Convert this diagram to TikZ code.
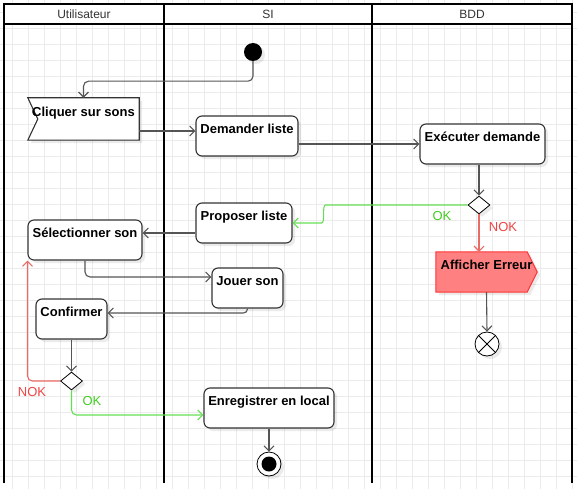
\documentclass[tikz,border=0pt]{standalone}
\usepackage{fontspec}
\setmainfont{Liberation Sans}
\usetikzlibrary{arrows.meta,shapes.geometric,shadows}
\definecolor{gridgray}{HTML}{EBEBEB}
\definecolor{boxline}{HTML}{333333}
\definecolor{flowgray}{HTML}{555555}
\definecolor{headtext}{HTML}{333333}
\definecolor{okgreen}{HTML}{66DD55}
\definecolor{oktext}{HTML}{44CC22}
\definecolor{nokred}{HTML}{EA6B66}
\definecolor{noktext}{HTML}{EE4444}
\definecolor{errfill}{HTML}{FF8080}
\definecolor{errline}{HTML}{FF3333}

\begin{document}
\begin{tikzpicture}[
  x=1pt, y=-1pt,
  font=\fontsize{13}{15}\selectfont,
  boxshadow/.style={drop shadow={shadow xshift=3pt, shadow yshift=-3pt, fill=black, opacity=0.08}},
  activity/.style={rounded corners=6pt, draw=boxline, line width=1.1pt, fill=white, boxshadow,
    font=\bfseries\fontsize{13}{15}\selectfont, inner xsep=2pt, inner ysep=2pt,
    text height=15.5pt, text depth=20.5pt},
  shapedtext/.style={draw=none, font=\bfseries\fontsize{13}{15}\selectfont,
    inner xsep=2pt, inner ysep=2pt, text height=15.5pt, text depth=20.5pt},
  decision/.style={diamond, draw=black, fill=white, line width=0.8pt, inner sep=0pt,
    minimum width=22pt, minimum height=18pt, boxshadow},
  startnode/.style={circle, fill=black, minimum size=18pt, inner sep=0pt, boxshadow},
  finalnode/.style={circle, draw=black, fill=white, line width=0.8pt, minimum size=24pt,
    inner sep=0pt, boxshadow,
    path picture={\fill[black] (path picture bounding box.center) circle (7.5pt);}},
  flowfinal/.style={circle, draw=black, fill=white, line width=0.8pt, minimum size=24pt,
    inner sep=0pt, boxshadow,
    path picture={\draw[black, line width=0.8pt]
      (path picture bounding box.north west) -- (path picture bounding box.south east)
      (path picture bounding box.north east) -- (path picture bounding box.south west);}},
  lanehead/.style={font=\fontsize{12}{14}\selectfont, text=headtext},
  lane/.style={draw=black, line width=1.8pt},
  gridline/.style={draw=gridgray, line width=0.8pt},
  flow/.style={-{Straight Barb[length=5pt,width=10pt]}, draw=flowgray, line width=1.1pt,
    rounded corners=5pt},
  okflow/.style={flow, draw=okgreen},
  nokflow/.style={flow, draw=nokred},
  oklabel/.style={text=oktext},
  noklabel/.style={text=noktext}
]
\useasboundingbox (0,0) rectangle (577,489);

% background grid
\foreach \gx in {12,28,...,572}
  \draw[gridline] (\gx,0) -- (\gx,489);
\foreach \gy in {12,28,...,476}
  \draw[gridline] (0,\gy) -- (577,\gy);

% swimlanes
\fill[white] (4,4) rectangle (572,24);
\draw[lane] (4,483) -- (4,4) -- (572,4) -- (572,483);
\draw[lane] (4,24) -- (572,24);
\draw[lane] (164,4) -- (164,483);
\draw[lane] (372,4) -- (372,483);
\node[lanehead] (laneuser) at (84,14) {Utilisateur};
\node[lanehead] (lanesi) at (268,14) {SI};
\node[lanehead] (lanebdd) at (472,14) {BDD};

% activities
\node[startnode] (start) at (253,52) {};
\node[shapedtext, minimum width=111pt, minimum height=42pt, text height=16.5pt, text depth=21.5pt]
  (click) at (83.5,119) {Cliquer sur sons};
\draw[draw=boxline, fill=white, line width=1.1pt, boxshadow]
  (click.north west) -- (click.north east) -- (click.south east) -- (click.south west)
  -- ([xshift=10pt]click.west) -- cycle;
\node[shapedtext, minimum width=111pt, minimum height=42pt, text height=16.5pt, text depth=21.5pt]
  at (click.center) {Cliquer sur sons};
\node[activity, minimum width=102pt] (ask) at (247,136) {Demander liste};
\node[activity, minimum width=125pt] (exec) at (482.5,144) {Exécuter demande};
\node[decision] (decdb) at (479,205) {};
\node[shapedtext, minimum width=101pt, minimum height=40pt] (err) at (486.5,272) {};
\draw[draw=errline, fill=errfill, line width=1pt, boxshadow]
  (err.north west) -- ([xshift=-10pt]err.north east) -- (err.east)
  -- ([xshift=-10pt]err.south east) -- (err.south west) -- cycle;
\node[shapedtext, minimum width=101pt, minimum height=40pt] at (err.center) {Afficher Erreur};
\node[flowfinal] (endflow) at (487,344) {};
\node[activity, minimum width=96pt] (propose) at (244,223) {Proposer liste};
\node[activity, minimum width=114pt] (select) at (85,240) {Sélectionner son};
\node[activity, minimum width=71pt] (play) at (247.5,288) {Jouer son};
\node[activity, minimum width=71pt] (confirm) at (71.5,319) {Confirmer};
\node[decision] (decuser) at (71.5,381) {};
\node[activity, minimum width=130pt] (save) at (269,408) {Enregistrer en local};
\node[finalnode] (finish) at (269,464) {};

% guard labels
\node[oklabel] (okdb) at (442,216) {OK};
\node[noklabel] (nokdb) at (503,227) {NOK};
\node[noklabel] (nokuser) at (32,392) {NOK};
\node[oklabel] (okuser) at (92,401) {OK};

% connectors
\coordinate (clickout) at ([yshift=-12pt]click.east);
\coordinate (proposeout) at ([yshift=-10pt]propose.west);
\draw[flow] (start.south) -- ++(0,20) -| (click.north);
\draw[flow] (clickout) -- (clickout -| ask.west);
\draw[flow] (ask.east |- exec.west) -- (exec.west);
\draw[flow] (decdb.north |- exec.south) -- (decdb.north);
\draw[okflow] (decdb.west) -- ++(-137,0) to[out=180, in=0] ++(-14,18) -- (propose.east);
\draw[nokflow] (decdb.south) -- (decdb.south |- err.north);
\draw[flow] (err.south) -- (endflow.north);
\draw[flow] (proposeout) -- (proposeout -| select.east);
\draw[flow] (select.south) |- ([yshift=11pt]play.west);
\draw[flow, rounded corners=4pt] (play.south) |- ([yshift=6pt]confirm.east);
\draw[flow] (confirm.south) -- (decuser.north);
\draw[nokflow] (decuser.west) -| (select.south west);
\draw[okflow] (decuser.south) |- ([yshift=-7pt]save.west);
\draw[flow] (save.south) -- (finish.north);
\end{tikzpicture}
\end{document}
